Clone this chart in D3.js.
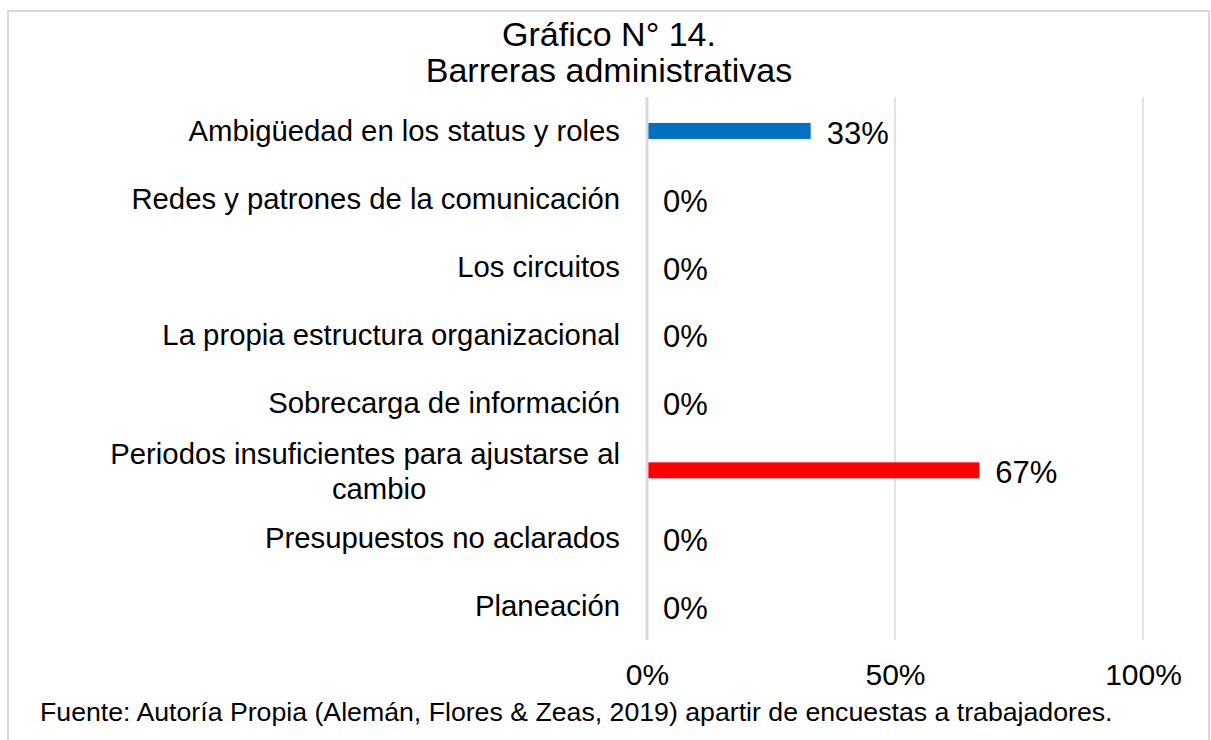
<!DOCTYPE html>
<html>
<head>
<meta charset="utf-8">
<script src="https://cdn.jsdelivr.net/npm/d3@7"></script>
<style>
  body { margin: 0; background: #fff; }
  text { font-family: Arial, "Liberation Sans", sans-serif; fill: #000; }
</style>
</head>
<body>
<svg></svg>
<script>
// chart data
var categories = [
  "Ambigüedad en los status y roles",
  "Redes y patrones de la comunicación",
  "Los circuitos",
  "La propia estructura organizacional",
  "Sobrecarga de información",
  "Periodos insuficientes para ajustarse al|cambio",
  "Presupuestos no aclarados",
  "Planeación"
];
var values = [0.33, 0, 0, 0, 0, 0.67, 0, 0];
var barColors = ["#0070c0", "#0070c0", "#0070c0", "#0070c0", "#0070c0", "#ff0000", "#0070c0", "#0070c0"];
var tickValues = [0, 0.5, 1];
var titleLines = ["Gráfico N° 14.", "Barreras administrativas"];
var source = "Fuente: Autoría Propia (Alemán, Flores & Zeas, 2019) apartir de encuestas a trabajadores.";

var width = 1211;
var height = 740;
var plotLeft = 647, plotRight = 1143, plotTop = 97, plotBottom = 640;

var svg = d3.select("svg")
	.attr("width", width)
	.attr("height", height);

// outer frame
svg.append("path")
	.attr("d", `M8,${height} V11 H1209 V${height}`)
	.attr("fill", "none")
	.attr("stroke", "#d9d9d9")
	.attr("stroke-width", 2);

var xScale = d3.scaleLinear()
	.domain([0, 1])
	.range([plotLeft, plotRight]);

var yScale = d3.scaleBand()
	.domain(categories)
	.range([plotTop, plotBottom]);

// gridlines
svg.append("g")
	.selectAll("line")
	.data(tickValues.slice(1))
	.join("line")
	.attr("x1", d => xScale(d))
	.attr("x2", d => xScale(d))
	.attr("y1", plotTop)
	.attr("y2", plotBottom)
	.attr("stroke", "#d9d9d9")
	.attr("stroke-width", 1.5);

// x axis labels
var xAxis = svg.append("g")
	.attr("transform", `translate(0, ${plotBottom})`)
	.call(d3.axisBottom(xScale)
		.tickValues(tickValues)
		.tickFormat(d3.format(".0%"))
		.tickSize(0)
		.tickPadding(24));
xAxis.select(".domain").remove();
xAxis.selectAll("text")
	.style("font-size", "30px")
	.style("font-family", "Arial, 'Liberation Sans', sans-serif")
	.attr("fill", "#000");

// bars
var barH = 16;
svg.append("g")
	.selectAll("rect")
	.data(categories)
	.join("rect")
	.attr("x", xScale(0))
	.attr("y", d => yScale(d) + yScale.bandwidth() / 2 - barH / 2)
	.attr("width", (d, i) => xScale(values[i]) - xScale(0))
	.attr("height", barH)
	.attr("fill", (d, i) => barColors[i]);

// zero line
svg.append("line")
	.attr("x1", xScale(0))
	.attr("x2", xScale(0))
	.attr("y1", plotTop)
	.attr("y2", plotBottom)
	.attr("stroke", "#d9d9d9")
	.attr("stroke-width", 3);

// data labels
svg.append("g")
	.selectAll("text")
	.data(categories)
	.join("text")
	.attr("x", (d, i) => xScale(values[i]) + 16)
	.attr("y", d => yScale(d) + yScale.bandwidth() / 2 + 2)
	.attr("dy", "0.35em")
	.style("font-size", "31px")
	.text((d, i) => d3.format(".0%")(values[i]));

// category labels
var catG = svg.append("g");
categories.forEach(function(c) {
	var lines = c.split("|");
	var cy = yScale(c) + yScale.bandwidth() / 2;
	if (lines.length === 1) {
		catG.append("text")
			.attr("x", 620)
			.attr("y", cy)
			.attr("dy", "0.35em")
			.attr("text-anchor", "end")
			.style("font-size", "29.3px")
			.text(c);
	} else {
		var t1 = catG.append("text")
			.attr("x", 620)
			.attr("y", cy - 17)
			.attr("dy", "0.35em")
			.attr("text-anchor", "end")
			.style("font-size", "29.3px")
			.text(lines[0]);
		var w = t1.node().getComputedTextLength();
		catG.append("text")
			.attr("x", 620 - w / 2 + 14)
			.attr("y", cy + 18)
			.attr("dy", "0.35em")
			.attr("text-anchor", "middle")
			.style("font-size", "29.3px")
			.text(lines[1]);
	}
});

// title
svg.append("g")
	.selectAll("text")
	.data(titleLines)
	.join("text")
	.attr("x", 609)
	.attr("y", (d, i) => 46 + i * 36)
	.attr("text-anchor", "middle")
	.style("font-size", "34px")
	.text(d => d);

// source note
svg.append("text")
	.attr("x", 40)
	.attr("y", 721)
	.style("font-size", "26.7px")
	.text(source);
</script>
</body>
</html>
